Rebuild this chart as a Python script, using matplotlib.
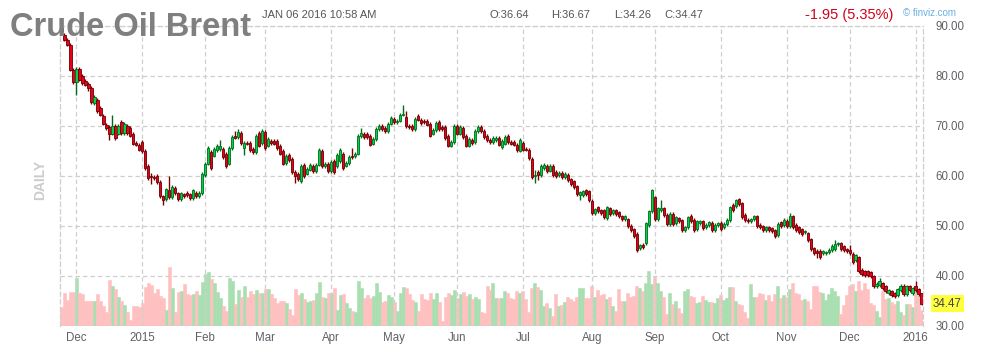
import numpy as np
import pandas as pd
import matplotlib
matplotlib.use("Agg")
import matplotlib.pyplot as plt
from matplotlib.transforms import blended_transform_factory

plt.rcParams['font.family'] = ['Liberation Sans', 'DejaVu Sans']

## trading days shown on the chart
holidays = ['2014-12-25', '2015-01-01', '2015-04-03', '2015-12-25', '2016-01-01']
dates = pd.bdate_range('2014-11-24', '2016-01-06')
dates = dates[~dates.isin(pd.to_datetime(holidays))]

## daily open / close
opens = [
    89.6, 88.2, 87.2, 86.2, 81.2, 78.7, 81.3, 79.9, 79.0, 78.4,
    77.5, 74.5, 75.2, 73.5, 72.0, 70.2, 69.7, 68.4, 69.9, 68.4,
    70.7, 68.5, 70.0, 69.5, 68.4, 66.5, 66.2, 66.8, 65.0, 62.0,
    60.0, 59.8, 60.0, 58.8, 55.9, 55.3, 57.2, 55.7, 57.6, 56.5,
    55.3, 56.3, 56.6, 56.3, 55.5, 56.6, 56.0, 56.5, 60.2, 62.4,
    64.7, 64.0, 65.1, 65.3, 65.3, 64.4, 62.4, 65.5, 67.9, 67.7,
    68.5, 65.5, 66.5, 66.5, 65.3, 64.7, 68.5, 66.5, 68.7, 66.0,
    67.0, 67.0, 67.0, 66.0, 64.9, 62.5, 64.2, 63.3, 60.7, 60.4,
    59.0, 62.2, 60.4, 61.2, 61.9, 60.9, 62.2, 65.0, 61.9, 62.4,
    60.9, 62.9, 61.9, 62.9, 64.4, 62.0, 62.5, 64.0, 63.9, 64.4,
    67.9, 68.4, 68.4, 68.0, 66.4, 67.3, 69.3, 69.9, 69.6, 68.9,
    70.4, 71.4, 70.7, 71.0, 72.2, 71.8, 70.0, 70.0, 69.3, 71.9,
    71.2, 71.0, 70.9, 70.4, 68.4, 69.1, 70.7, 69.7, 69.7, 68.0,
    66.0, 66.7, 69.9, 68.4, 69.5, 68.0, 66.0, 67.2, 66.7, 68.9,
    69.7, 68.9, 67.9, 67.2, 66.7, 67.1, 67.5, 65.7, 66.4, 68.0,
    66.8, 66.7, 66.2, 65.0, 66.5, 65.3, 65.2, 63.3, 60.0, 60.7,
    60.2, 61.5, 61.9, 61.0, 62.0, 60.7, 60.2, 60.5, 59.7, 60.2,
    59.3, 58.9, 57.9, 56.2, 56.2, 57.1, 56.9, 55.0, 52.5, 53.7,
    53.1, 53.1, 51.5, 53.5, 52.5, 53.1, 52.7, 51.9, 51.3, 51.3,
    50.0, 49.3, 48.4, 45.5, 46.2, 46.5, 50.2, 52.9, 55.7, 51.3,
    53.2, 53.5, 52.2, 50.4, 52.4, 50.5, 51.5, 51.1, 49.2, 49.7,
    52.0, 51.2, 49.3, 50.5, 50.9, 49.7, 50.2, 50.6, 49.2, 50.2,
    50.6, 49.7, 50.4, 51.2, 54.2, 54.0, 55.3, 54.5, 52.2, 51.2,
    50.9, 51.3, 51.9, 50.2, 49.9, 49.2, 49.7, 49.5, 49.1, 48.2,
    50.7, 50.2, 51.0, 50.0, 51.9, 50.2, 49.7, 49.3, 48.7, 48.5,
    47.3, 45.5, 45.0, 45.0, 44.5, 44.5, 44.7, 45.2, 45.4, 46.4,
    46.5, 45.9, 45.3, 45.2, 44.4, 43.1, 43.7, 41.2, 40.9, 40.9,
    40.7, 39.9, 37.9, 38.1, 38.5, 37.9, 36.5, 36.9, 36.5, 36.2,
    37.1, 38.0, 36.4, 37.9, 36.5, 37.9, 37.3, 36.64,
]
closes = [
    88.9, 87.2, 86.2, 81.2, 78.7, 81.3, 79.2, 78.5, 78.2, 77.5,
    74.7, 75.7, 72.9, 72.2, 70.4, 69.5, 68.4, 69.9, 67.5, 70.0,
    68.5, 70.3, 68.5, 68.0, 66.4, 66.2, 65.2, 64.9, 61.5, 59.5,
    59.7, 59.6, 58.8, 55.9, 55.2, 57.3, 55.7, 57.8, 56.5, 55.3,
    56.5, 55.9, 56.1, 55.5, 57.1, 56.0, 56.6, 60.4, 62.4, 65.5,
    61.5, 65.3, 65.9, 66.0, 63.7, 61.9, 65.5, 67.7, 67.6, 68.7,
    66.5, 66.5, 66.4, 65.1, 64.7, 67.9, 66.0, 69.0, 65.5, 67.3,
    66.5, 66.4, 65.5, 64.4, 62.4, 63.9, 63.1, 60.7, 59.9, 59.3,
    62.0, 60.0, 61.3, 62.1, 60.9, 62.2, 65.2, 61.9, 62.4, 60.9,
    62.7, 60.7, 64.2, 65.2, 61.5, 62.5, 63.7, 63.7, 64.4, 68.0,
    68.5, 67.7, 67.7, 66.2, 67.4, 69.3, 69.9, 69.3, 68.9, 70.3,
    71.5, 70.7, 71.0, 72.2, 72.4, 69.9, 69.7, 69.3, 71.3, 71.2,
    70.5, 70.7, 70.2, 68.0, 69.1, 70.5, 69.3, 69.3, 67.5, 66.0,
    66.7, 69.9, 68.4, 69.7, 67.7, 66.0, 67.3, 66.5, 68.9, 69.7,
    68.9, 67.7, 67.1, 66.7, 67.5, 67.5, 66.2, 66.9, 67.7, 66.7,
    66.4, 66.2, 65.1, 67.1, 65.2, 65.2, 63.5, 59.7, 60.2, 60.2,
    62.0, 62.2, 60.9, 62.0, 60.2, 60.0, 60.5, 59.7, 60.4, 59.2,
    58.4, 57.7, 56.4, 56.7, 56.9, 56.4, 55.2, 52.5, 53.3, 52.9,
    52.5, 51.7, 53.7, 52.4, 53.1, 52.4, 51.9, 51.3, 51.9, 49.9,
    49.2, 48.0, 45.2, 46.1, 45.7, 50.5, 52.9, 57.1, 51.3, 53.5,
    53.5, 52.2, 50.4, 52.4, 50.4, 51.7, 50.9, 49.2, 49.7, 51.7,
    50.9, 49.2, 50.9, 50.9, 49.5, 50.2, 50.7, 49.2, 50.2, 50.5,
    49.3, 50.4, 51.2, 53.7, 53.2, 55.1, 54.4, 51.7, 51.2, 50.9,
    51.3, 51.9, 49.9, 49.7, 49.1, 49.7, 49.2, 48.9, 48.0, 50.4,
    50.0, 51.2, 50.0, 51.9, 49.7, 49.2, 48.7, 48.4, 48.9, 47.1,
    45.3, 44.5, 44.5, 43.7, 44.9, 44.7, 45.2, 46.0, 46.4, 46.5,
    45.3, 45.1, 44.9, 44.5, 42.7, 44.1, 40.9, 40.4, 40.2, 40.2,
    39.9, 37.9, 38.4, 38.9, 37.5, 36.9, 37.1, 36.2, 36.0, 37.3,
    38.0, 36.4, 37.9, 37.1, 37.5, 37.1, 36.42, 34.47,
]
# wicks that stick out further than the usual small tail
big_highs = {0: 90.0, 17: 72.2, 30: 60.5, 36: 60.0, 53: 67.1, 58: 68.9, 59: 69.3,
             97: 65.5, 100: 69.5, 114: 74.2, 115: 73.0, 158: 61.2, 200: 55.2,
             243: 52.6, 258: 47.2, 263: 46.2, 273: 39.6, 285: 38.9, 287: 36.67}
big_lows = {5: 76.2, 9: 76.9, 16: 67.2, 30: 58.3, 34: 54.2, 61: 64.2, 78: 58.5,
            158: 58.5, 159: 59.2, 173: 55.2, 252: 43.5, 287: 34.26}

## volume (arbitrary units)
volume = [
    19, 33, 26, 34, 34, 48, 33, 32, 25, 25, 25, 25, 32, 25, 20,
    14, 46, 40, 37, 29, 25, 21, 14, 6, 20, 20, 19, 23, 39, 43,
    41, 33, 37, 30, 28, 16, 59, 38, 14, 34, 35, 42, 32, 31, 32,
    35, 31, 44, 52, 54, 47, 43, 34, 28, 20, 15, 48, 45, 22, 36,
    29, 40, 29, 35, 32, 36, 33, 33, 37, 37, 32, 28, 23, 25, 25,
    23, 17, 11, 37, 31, 33, 27, 24, 25, 26, 33, 44, 29, 28, 33,
    33, 38, 16, 31, 32, 23, 18, 15, 14, 45, 38, 28, 31, 28, 30,
    43, 34, 24, 25, 31, 29, 24, 15, 33, 39, 38, 32, 26, 24, 15,
    32, 27, 26, 33, 27, 33, 24, 5, 29, 33, 31, 36, 28, 32, 34,
    30, 32, 27, 29, 27, 14, 13, 40, 36, 43, 28, 28, 28, 35, 33,
    28, 27, 35, 33, 35, 27, 14, 38, 43, 39, 36, 20, 23, 18, 10,
    32, 20, 21, 24, 29, 27, 25, 29, 38, 38, 28, 28, 40, 29, 36,
    31, 32, 27, 29, 20, 15, 37, 25, 25, 33, 29, 30, 40, 38, 35,
    43, 55, 42, 49, 43, 35, 29, 12, 33, 22, 25, 18, 13, 35, 37,
    30, 29, 23, 24, 30, 26, 24, 24, 23, 28, 31, 26, 28, 39, 39,
    25, 22, 21, 14, 8, 42, 29, 29, 33, 32, 26, 31, 25, 32, 40,
    28, 31, 29, 37, 43, 33, 32, 26, 27, 25, 17, 40, 40, 34, 33,
    26, 32, 38, 35, 30, 12, 21, 31, 40, 42, 35, 45, 36, 43, 37,
    23, 21, 15, 9, 35, 27, 28, 24, 22, 25, 14, 11, 22, 22, 19,
    36, 30, 16,
]

price_ticks = [30, 40, 50, 60, 70, 80, 90]
last_price = 34.47

o = np.array(opens)
c = np.array(closes)
n = len(c)
x = np.arange(n)
hi = np.maximum(o, c) + 0.35
lo = np.minimum(o, c) - 0.35
for k, v in big_highs.items():
    hi[k] = v
for k, v in big_lows.items():
    lo[k] = v
up = c >= o

# month ticks: first trading day of each month
month_start = [i for i in range(1, n) if dates[i].month != dates[i - 1].month]
month_lbl = [dates[i].strftime('%Y') if dates[i].month == 1 else dates[i].strftime('%b')
             for i in month_start]

W, H = 987, 363
fig = plt.figure(figsize=(W / 100, H / 100), dpi=100)
rect = [60 / W, (H - 326) / H, 863 / W, 300.5 / H]

grid_c = '#cfcfcf'
dash = (0, (3.5, 2.5))

axv = fig.add_axes(rect)
vcol = np.where(up, '#a9deb1', '#ffc0c0')
axv.bar(x, volume, width=1.0, color=vcol, edgecolor=vcol, linewidth=0.4, zorder=1)
axv.set_ylim(0, 300.5)
axv.set_xlim(-0.5, n - 0.5)
axv.axis('off')

ax = fig.add_axes(rect)
ax.patch.set_visible(False)
ax.set_xlim(-0.5, n - 0.5)
ax.set_ylim(30, 90)

ax.vlines(x, lo, hi, color=np.where(up, '#006b1a', '#7a0000'), lw=1, zorder=3)
body_h = np.abs(c - o)
body_h = np.maximum(body_h, 0.12)
ax.bar(x, body_h, bottom=np.minimum(o, c), width=0.72,
       color=np.where(up, '#00d24a', '#e8001c'),
       edgecolor=np.where(up, '#006b1a', '#6b0000'), linewidth=0.6, zorder=4)

ax.set_yticks(price_ticks)
ax.set_yticklabels(['%.2f' % v for v in price_ticks])
ax.yaxis.tick_right()
ax.set_xticks(month_start)
ax.set_xticklabels(month_lbl)
ax.tick_params(axis='both', length=0, labelsize=8.3, labelcolor='#5f6066')
ax.tick_params(axis='y', pad=9)
ax.tick_params(axis='x', pad=4)
ax.grid(True, color=grid_c, lw=0.9, linestyle=dash, zorder=2)
for s in ['left', 'right', 'top']:
    ax.spines[s].set_color(grid_c)
    ax.spines[s].set_linestyle(dash)
    ax.spines[s].set_linewidth(0.9)
ax.spines['bottom'].set_visible(False)

# last price tag
tr = blended_transform_factory(ax.transAxes, ax.transData)
ax.text(1.0 + 10 / 863, last_price, '%.2f' % last_price, transform=tr, fontsize=8.3,
        color='#444444', ha='left', va='center', zorder=6,
        bbox=dict(boxstyle='square,pad=0.2', fc='#ffff40', ec='none'))

# header
fig.text(10 / W, 1 - 36.5 / H, 'Crude Oil Brent', fontsize=23.5, fontweight='bold',
         color='#7f7f7f', va='baseline', ha='left')
fig.text(262 / W, 1 - 15 / H, 'JAN 06 2016 10:58 AM', fontsize=8, color='#555555',
         va='center', ha='left')
for xp, s in [(490, 'O:36.64'), (551, 'H:36.67'), (614, 'L:34.26'), (664, 'C:34.47')]:
    fig.text(xp / W, 1 - 15 / H, s, fontsize=8, color='#555555', va='center', ha='left')
fig.text(893 / W, 1 - 15 / H, '-1.95 (5.35%)', fontsize=10.5, color='#d0021b',
         va='center', ha='right')
fig.text(903 / W, 1 - 13 / H, '\u00a9 finviz.com', fontsize=7, color='#6aaee0',
         va='center', ha='left')
fig.text(40 / W, 1 - 180 / H, 'DAILY', fontsize=10, fontweight='bold', color='#cccccc',
         rotation=90, va='center', ha='center')

fig.savefig('out.png', dpi=100)
